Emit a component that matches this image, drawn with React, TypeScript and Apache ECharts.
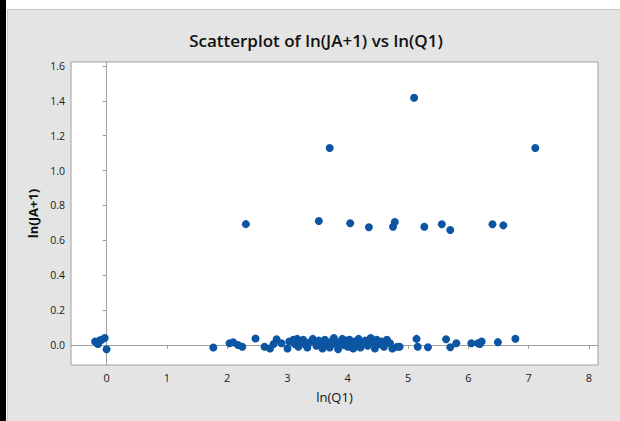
import React, { useEffect, useRef } from "react";
import * as echarts from "echarts";

const titleText = "Scatterplot of ln(JA+1) vs ln(Q1)";
const xName = "ln(Q1)";
const yName = "ln(JA+1)";
const xTicks = [0, 1, 2, 3, 4, 5, 6, 7, 8];
const yTicks = [0, 0.2, 0.4, 0.6, 0.8, 1.0, 1.2, 1.4, 1.6];

const highX = [2.31, 3.52, 3.7, 4.04, 4.35, 4.75, 4.78, 5.1, 5.27, 5.56, 5.7, 6.4, 6.58, 7.11];
const highY = [0.693, 0.711, 1.13, 0.698, 0.675, 0.678, 0.705, 1.418, 0.678, 0.692, 0.659, 0.692, 0.686, 1.13];

const lowX = [
  -0.19, -0.16, -0.12, -0.08, -0.03, -0.14, 0.0,
  1.77, 2.04, 2.1, 2.18, 2.25, 2.47, 2.62, 2.71, 2.77, 2.82, 2.9, 3.0, 3.03, 3.1, 3.16,
  3.12, 3.18, 3.22, 3.26, 3.3, 3.33, 3.37, 3.42, 3.45, 3.48, 3.52, 3.55, 3.58, 3.62, 3.66,
  3.7, 3.73, 3.77, 3.8, 3.84, 3.87, 3.91, 3.94, 3.97, 4.0, 4.03, 4.06, 4.09, 4.12, 4.15,
  4.18, 4.21, 4.25, 4.29, 4.33, 4.38, 4.42, 4.45, 4.48, 4.52, 4.56, 4.6, 4.65, 4.7, 4.74,
  4.82, 4.86, 5.14, 5.16, 5.33, 5.63, 5.7, 5.8, 6.05, 6.16, 6.19, 6.22, 6.49, 6.78,
];
const lowY = [
  0.02, 0.01, 0.025, 0.03, 0.04, 0.005, -0.025,
  -0.015, 0.01, 0.015, 0.0, -0.01, 0.037, -0.01, -0.02, 0.005, 0.033, 0.01, -0.02, 0.02, 0.03, 0.035,
  0.005, -0.01, 0.02, 0.03, 0.0, -0.015, 0.015, 0.035, 0.02, -0.005, 0.025, 0.0, -0.02, 0.03, 0.01,
  -0.015, 0.02, 0.04, 0.005, -0.025, 0.015, 0.035, 0.0, 0.025, -0.01, 0.03, 0.01, -0.02, 0.02, 0.0,
  0.035, -0.015, 0.01, 0.025, -0.005, 0.04, 0.015, -0.02, 0.03, 0.005, 0.02, -0.01, 0.03, 0.01, -0.02,
  -0.01, -0.01, 0.035, -0.01, -0.013, 0.033, -0.013, 0.01, 0.01, 0.01, 0.005, 0.02, 0.016, 0.036,
];

export default function App() {
  const ref = useRef<HTMLDivElement>(null);
  useEffect(() => {
    document.body.style.margin = "0";
    const chart = echarts.init(ref.current!, null, { renderer: "svg" });
    const data: number[][] = [];
    lowX.forEach((x, i) => data.push([x, lowY[i]]));
    highX.forEach((x, i) => data.push([x, highY[i]]));
    const font = "'Open Sans', 'Noto Sans', sans-serif";
    chart.setOption({
      animation: false,
      backgroundColor: "#ffffff",
      graphic: {
        elements: [
          { type: "rect", z: -100, shape: { x: 0, y: 0, width: 6, height: 421 }, style: { fill: "#000000" } },
          {
            type: "rect",
            z: -100,
            shape: { x: 7.5, y: 9.5, width: 620, height: 420 },
            style: { fill: "#e4e4e4", stroke: "#c8c8c8", lineWidth: 1 },
          },
        ],
      },
      title: {
        text: titleText,
        left: 311,
        textAlign: "center",
        top: 27,
        textStyle: { fontFamily: font, fontSize: 17, fontWeight: 600, color: "#111111" },
      },
      grid: {
        left: 71,
        right: 22,
        top: 62,
        bottom: 56,
        show: true,
        backgroundColor: "#ffffff",
        borderColor: "#a0a0a0",
        borderWidth: 1,
      },
      xAxis: {
        type: "value",
        min: -0.59,
        max: 8.15,
        name: xName,
        nameLocation: "middle",
        nameGap: 25,
        nameTextStyle: { fontFamily: font, fontSize: 13, color: "#111111" },
        splitLine: { show: false },
        axisLine: { show: true, lineStyle: { color: "#a0a0a0" } },
        axisTick: { show: true, length: 4, customValues: xTicks, lineStyle: { color: "#a0a0a0" } },
        axisLabel: { customValues: xTicks, fontFamily: font, fontSize: 11, color: "#1a1a1a", margin: 7 },
      },
      yAxis: {
        type: "value",
        min: -0.115,
        max: 1.623,
        name: yName,
        nameLocation: "middle",
        nameGap: 31,
        nameTextStyle: { fontFamily: font, fontSize: 13, fontWeight: "bold", color: "#111111" },
        splitLine: { show: false },
        axisLine: { show: true, lineStyle: { color: "#a0a0a0" } },
        axisTick: { show: true, length: 4, customValues: yTicks, lineStyle: { color: "#a0a0a0" } },
        axisLabel: {
          customValues: yTicks,
          formatter: (v: number) => v.toFixed(1),
          fontFamily: font,
          fontSize: 10.5,
          color: "#1a1a1a",
          margin: 6,
        },
      },
      series: [
        {
          type: "scatter",
          data,
          symbol: "circle",
          symbolSize: 8,
          itemStyle: { color: "#0b55a3", opacity: 1 },
        },
      ],
    });
    return () => chart.dispose();
  }, []);
  return <div ref={ref} style={{ position: "fixed", left: 0, top: 0, width: 620, height: 421 }} />;
}
